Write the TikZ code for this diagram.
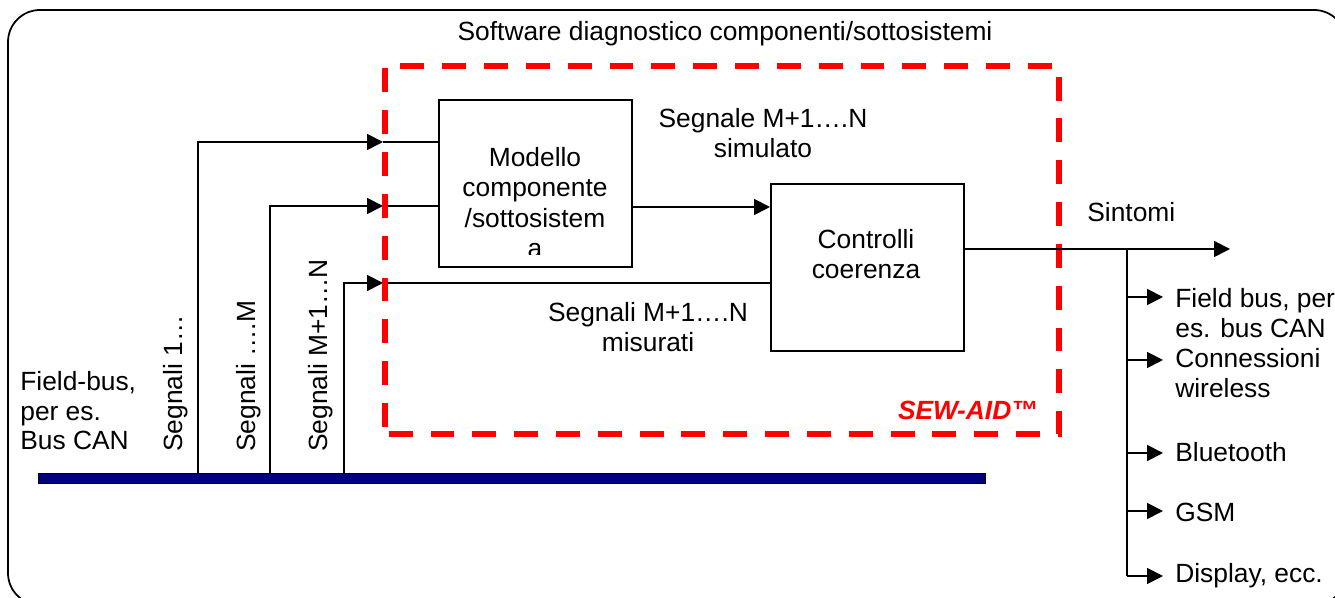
\documentclass[tikz,border=0pt]{standalone}
\usepackage{fontspec}
\setmainfont{Liberation Sans}
\usetikzlibrary{arrows.meta}
\definecolor{busblue}{RGB}{0,0,128}
\definecolor{sewred}{RGB}{255,0,0}
\tikzset{
	sig/.style={line width=1pt,-{Triangle[length=9pt,width=9pt]}},
	wire/.style={line width=0.8pt},
	blockbox/.style={draw,line width=1pt,inner sep=0pt},
	lbl/.style={inner sep=0pt,align=left}
}

\begin{document}
\begin{tikzpicture}[font=\fontsize{15}{17.4}\selectfont]
		\useasboundingbox (0,0) rectangle (26.7,11.96);
		\clip (0,0) rectangle (26.7,11.96);
		
		% outer frame
		\draw[line width=1pt,rounded corners=0.64cm] (0.16,-0.14) rectangle (26.92,11.76);
		\node at (14.5,11.14) [anchor=base,inner sep=0pt] (title) {Software diagnostico componenti/sottosistemi};
		
		% blocks
		\node at (8.76,9.98) [blockbox,anchor=north west,minimum width=3.86cm,minimum height=3.34cm] (model) {};
		\begin{scope}
			\clip (model.north west) rectangle (12.62,6.86);
			\node at (10.7,6.8) [anchor=base,inner sep=0pt,align=center] (modeltext) {Modello\\componente\\/sottosistem\\a};
		\end{scope}
		\node at (15.4,8.3) [blockbox,anchor=north west,minimum width=3.86cm,minimum height=3.34cm] (ctrl) {};
		\node at (17.32,6.38) [anchor=base,inner sep=0pt,align=center] (ctrltext) {Controlli\\coerenza};
		
		% bus
		\node at (0.76,2.28) [draw=black,fill=busblue,line width=0.8pt,anchor=south west,inner sep=0pt,minimum width=18.94cm,minimum height=0.2cm] (bus) {};
		\node at (0.4,2.96) [lbl,anchor=base west,font=\fontsize{15}{17}\selectfont] (fieldbus) {Field-bus,\\per es.\\Bus CAN};
		
		% input signals
		\coordinate (tap1) at (3.96,2.48);
		\coordinate (tap2) at (5.4,2.48);
		\coordinate (tap3) at (6.88,2.48);
		\coordinate (in1) at (7.66,9.12);
		\coordinate (in2) at (7.66,7.84);
		\coordinate (in3) at (7.66,6.3);
		\draw[sig] (tap1) |- (in1);
		\draw[sig] (tap2) |- (in2);
		\draw[sig] (tap3) |- (in3);
		\draw[wire] (in1) -- (model.west |- in1);
		\draw[wire] (in2) -- (model.west |- in2);
		\draw[wire] (in3) -- (ctrl.west |- in3);
		\node at (3.64,2.92) [rotate=90,anchor=base west,inner sep=0pt] (sig1) {Segnali 1…};
		\node at (5.1,2.92) [rotate=90,anchor=base west,inner sep=0pt] (sig2) {Segnali ….M};
		\node at (6.54,2.92) [rotate=90,anchor=base west,inner sep=0pt] (sig3) {Segnali M+1…N};
		
		% model -> checks
		\draw[sig] (model.east |- 0,7.82) -- (ctrl.west |- 0,7.82);
		\node at (15.26,8.8) [anchor=base,inner sep=0pt,align=center] (simlbl) {Segnale M+1….N\\simulato};
		\node at (12.96,4.92) [anchor=base,inner sep=0pt,align=center] (meslbl) {Segnali M+1….N\\misurati};
		
		% SEW-AID boundary
		\draw[sewred,line width=3.2pt,dash pattern=on 13.6pt off 10.2pt,dash phase=-4pt] (7.7,3.28) rectangle (21.18,10.64);
		\node at (20.76,3.56) [anchor=base east,inner sep=0pt,text=sewred,font=\fontsize{15}{17.4}\selectfont\bfseries\itshape] (sew) {SEW-AID™};
		
		% outputs
		\coordinate (symp) at (24.6,6.98);
		\draw[sig] (ctrl.east |- symp) -- (symp);
		\node at (21.74,7.52) [anchor=base west,inner sep=0pt] (sintomi) {Sintomi};
		\coordinate (branch) at (22.54,6.98);
		\coordinate (out1) at (23.26,6.02);
		\coordinate (out2) at (23.26,4.76);
		\coordinate (out3) at (23.26,2.9);
		\coordinate (out4) at (23.26,1.74);
		\coordinate (out5) at (23.26,0.44);
		\draw[wire] (branch) -- (branch |- out5);
		\foreach \o in {out1,out2,out3,out4,out5}
			\draw[sig] (branch |- \o) -- (\o);
		\node at (23.5,5.2) [lbl,anchor=base west] (fieldbus2) {Field bus, per\\es. bus CAN};
		\node at (23.5,4.0) [lbl,anchor=base west] (wireless) {Connessioni\\wireless};
		\node at (23.5,2.72) [lbl,anchor=base west] (bt) {Bluetooth};
		\node at (23.5,1.52) [lbl,anchor=base west] (gsm) {GSM};
		\node at (23.5,0.3) [lbl,anchor=base west] (display) {Display, ecc.};
	\end{tikzpicture}
\end{document}
